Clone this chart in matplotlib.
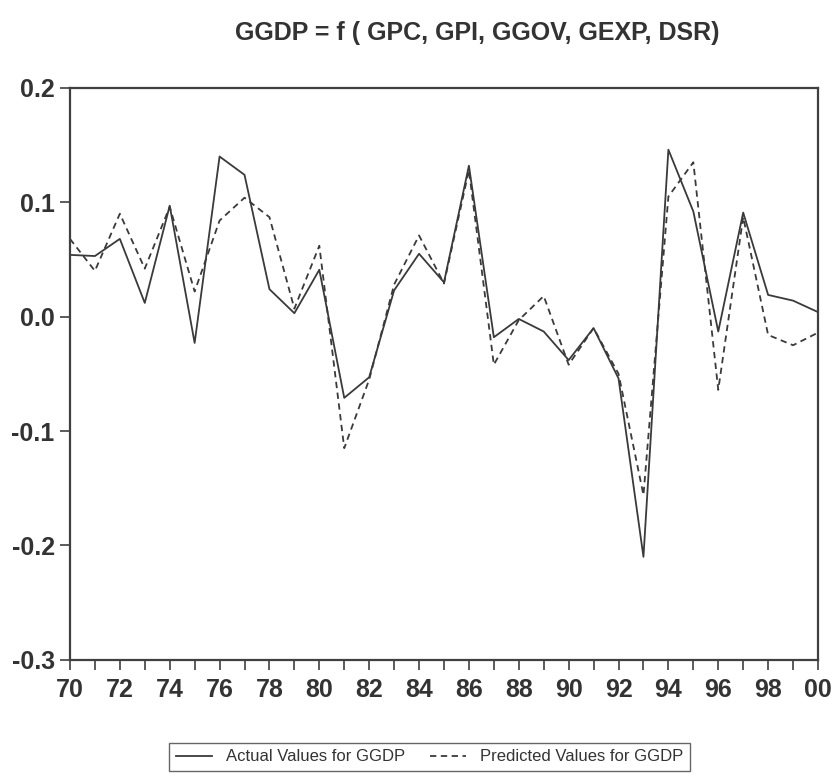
import matplotlib
matplotlib.use("Agg")
import matplotlib.pyplot as plt
from matplotlib.ticker import MultipleLocator, FuncFormatter

years = list(range(1970, 2001))

actual = [0.054, 0.053, 0.068, 0.012, 0.097, -0.023, 0.140, 0.124, 0.024, 0.003,
          0.041, -0.071, -0.053, 0.023, 0.055, 0.030, 0.132, -0.018, -0.002, -0.013,
          -0.038, -0.010, -0.054, -0.210, 0.146, 0.092, -0.013, 0.091, 0.019, 0.014,
          0.004]

predicted = [0.068, 0.040, 0.090, 0.042, 0.096, 0.022, 0.084, 0.104, 0.087, 0.007,
             0.062, -0.115, -0.055, 0.028, 0.071, 0.029, 0.128, -0.042, -0.003, 0.018,
             -0.042, -0.010, -0.050, -0.156, 0.105, 0.135, -0.064, 0.087, -0.016, -0.025,
             -0.014]

title = "GGDP = f ( GPC, GPI, GGOV, GEXP, DSR)"

plt.rcParams["font.family"] = ["Liberation Sans", "DejaVu Sans"]

fig = plt.figure(figsize=(8.4, 7.78), dpi=100)
ax = fig.add_axes([0.0833, 0.152, 0.8905, 0.735])

line_col = "#3a3a3a"
ax.plot(years, actual, color=line_col, lw=1.3, ls="-", label="Actual Values for GGDP")
ax.plot(years, predicted, color=line_col, lw=1.3, ls=(0, (3.5, 2.5)),
        label="Predicted Values for GGDP")

ax.set_xlim(1970, 2000)
ax.set_ylim(-0.3, 0.2)
ax.xaxis.set_major_locator(MultipleLocator(2))
ax.xaxis.set_minor_locator(MultipleLocator(1))
ax.xaxis.set_major_formatter(FuncFormatter(lambda v, p: "%02d" % (int(round(v)) % 100)))
ax.yaxis.set_major_locator(MultipleLocator(0.1))
ax.yaxis.set_major_formatter(FuncFormatter(lambda v, p: "%.1f" % v))

for s in ax.spines.values():
    s.set_linewidth(1.6)
    s.set_color("#404040")
ax.tick_params(axis="both", which="both", direction="out", length=7, width=1.2,
               color="#404040")
ax.tick_params(axis="both", labelsize=18, labelcolor="#333333")
for lab in ax.get_xticklabels() + ax.get_yticklabels():
    lab.set_fontweight("bold")
ax.tick_params(axis="x", pad=6)
ax.tick_params(axis="y", pad=4)

fig.text(0.568, 0.958, title, ha="center", va="center", fontsize=18,
         fontweight="bold", color="#333333")

leg = fig.legend(loc="center", bbox_to_anchor=(0.511, 0.027), ncol=2, fontsize=12,
                 frameon=True, fancybox=False, edgecolor="#404040",
                 handlelength=2.2, columnspacing=1.5, borderpad=0.4)
leg.get_frame().set_linewidth(1.0)
for t in leg.get_texts():
    t.set_color("#333333")

fig.savefig("out.png", dpi=100)
